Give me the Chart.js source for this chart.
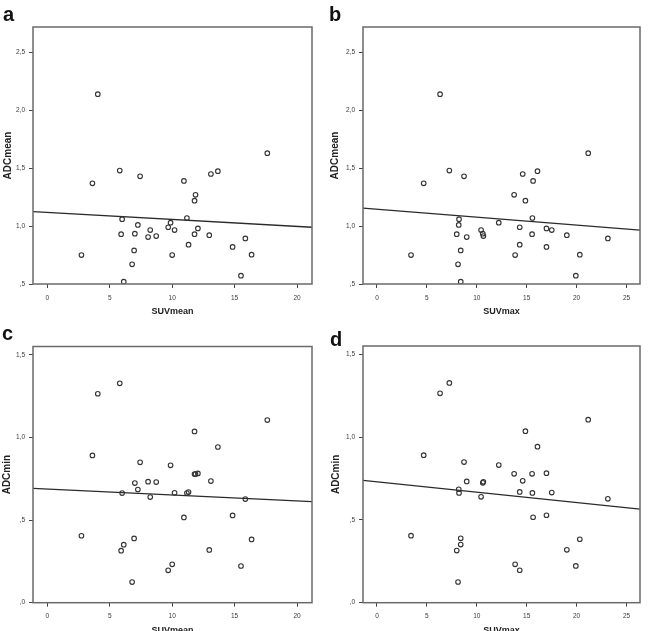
<!DOCTYPE html>
<html>
<head>
<meta charset="utf-8">
<script src="https://cdn.jsdelivr.net/npm/chart.js@4.4.1/dist/chart.umd.min.js"></script>
<style>
html, body { margin: 0; padding: 0; background: #fff; overflow: hidden; }
body { width: 648px; height: 631px; position: relative; }
canvas { position: absolute; }
.tag { position: absolute; font: bold 20px "Liberation Sans", Arial, sans-serif; line-height: 20px; color: #111; }
</style>
</head>
<body>
<canvas id="chartA" width="324" height="320" style="left:0;top:0"></canvas>
<canvas id="chartB" width="324" height="320" style="left:324px;top:0"></canvas>
<canvas id="chartC" width="324" height="325" style="left:0;top:315px"></canvas>
<canvas id="chartD" width="324" height="325" style="left:324px;top:315px"></canvas>
<div class="tag" style="left:3px;top:4px">a</div>
<div class="tag" style="left:329px;top:4px">b</div>
<div class="tag" style="left:2px;top:323px">c</div>
<div class="tag" style="left:330px;top:329px">d</div>
<script>
// data, one value per patient (same order in every array)
const suvMean = [4.04, 3.61, 5.80, 7.43, 2.73, 5.99, 5.91, 7.01, 7.25, 6.95, 6.79, 6.12, 8.24, 8.07, 8.72, 9.68, 9.87,
  10.19, 10.0, 10.94, 11.87, 11.79, 11.18, 12.06, 11.79, 11.31, 13.10, 13.66, 12.97, 14.84, 15.86, 16.36, 15.51, 17.62];
const suvMax = [6.32, 4.68, 7.25, 8.72, 3.41, 8.22, 7.99, 10.6, 8.19, 8.39, 8.12, 8.39, 10.43, 8.99, 10.66, 14.3, 12.2,
  17.51, 13.84, 15.64, 13.74, 14.87, 15.57, 16.98, 15.54, 14.3, 14.6, 16.08, 19.02, 16.98, 23.13, 20.32, 19.92, 21.16];
const adcMean = [2.14, 1.37, 1.48, 1.43, 0.75, 1.06, 0.93, 0.935, 1.01, 0.79, 0.67, 0.52, 0.966, 0.905, 0.914, 0.99, 1.03,
  0.966, 0.75, 1.39, 1.27, 1.22, 1.07, 0.98, 0.93, 0.84, 1.45, 1.475, 0.922, 0.82, 0.894, 0.753, 0.572, 1.63];
const adcMin = [1.264, 0.891, 1.327, 0.849, 0.405, 0.663, 0.315, 0.724, 0.685, 0.389, 0.125, 0.351, 0.639, 0.732, 0.730,
  0.196, 0.831, 0.665, 0.232, 0.516, 0.778, 1.036, 0.663, 0.782, 0.778, 0.669, 0.736, 0.942, 0.319, 0.528, 0.627, 0.383, 0.222, 1.105];

// fit line heights at the left and right edge of each plot
const fitA = [1.125, 0.99];
const fitB = [1.155, 0.966];
const fitC = [0.692, 0.612];
const fitD = [0.739, 0.565];

// tick values
const xTicksMean = [0, 5, 10, 15, 20];
const xTicksMax = [0, 5, 10, 15, 20, 25];
const yTicksMean = [0.5, 1.0, 1.5, 2.0, 2.5];
const yTicksMin = [0, 0.5, 1.0, 1.5];

const FONT = '"Liberation Sans", Arial, sans-serif';

// SPSS style labels: 2,5  1,0  ,5  ,0
function spss(v) {
  let s = v.toFixed(1).replace('.', ',');
  if (s.startsWith('0')) s = s.slice(1);
  return s;
}

const framePlugin = {
  id: 'frame',
  afterDatasetsDraw(chart) {
    const { ctx, chartArea } = chart;
    const { left, top, right, bottom } = chartArea;
    ctx.save();
    ctx.strokeStyle = '#6a6a6a';
    ctx.lineWidth = 1.5;
    ctx.strokeRect(left, top, right - left, bottom - top);
    ctx.restore();
  }
};

function makeChart(id, xs, ys, fit, xRange, yRange, xTicks, yTicks, xTitle, yTitle, box) {
  const points = xs.map((x, i) => ({ x: x, y: ys[i] }));
  return new Chart(document.getElementById(id), {
    type: 'scatter',
    data: {
      datasets: [{
        data: points,
        pointRadius: 2.3,
        pointBorderWidth: 1.1,
        pointBorderColor: '#333',
        pointBackgroundColor: 'rgba(0,0,0,0)',
      }, {
        data: [{ x: xRange[0], y: fit[0] }, { x: xRange[1], y: fit[1] }],
        showLine: true,
        pointRadius: 0,
        borderColor: '#2a2a2a',
        borderWidth: 1.3,
      }]
    },
    options: {
      responsive: false,
      animation: false,
      layout: {
        autoPadding: false,
        padding: { left: 0, top: box.top, right: box.right, bottom: 0 }
      },
      plugins: {
        legend: { display: false },
        tooltip: { enabled: false },
      },
      scales: {
        x: {
          type: 'linear',
          min: xRange[0],
          max: xRange[1],
          afterBuildTicks: (scale) => { scale.ticks = xTicks.map(v => ({ value: v })); },
          afterFit: (scale) => { scale.height = box.xHeight; },
          border: { display: false },
          grid: { drawOnChartArea: false, tickLength: 4, color: '#444', lineWidth: 1 },
          ticks: { padding: 6, color: '#3a3a3a', maxRotation: 0, font: { family: FONT, size: 6.5 } },
          title: {
            display: true, text: xTitle, color: '#222',
            padding: { top: 0, bottom: box.xTitlePad },
            font: { family: FONT, size: 9, weight: 'bold' }
          }
        },
        y: {
          type: 'linear',
          min: yRange[0],
          max: yRange[1],
          afterBuildTicks: (scale) => { scale.ticks = yTicks.map(v => ({ value: v })); },
          afterFit: (scale) => { scale.width = box.yWidth; },
          border: { display: false },
          grid: { drawOnChartArea: false, tickLength: 4, color: '#444', lineWidth: 1 },
          ticks: { padding: 4, color: '#3a3a3a', callback: (v) => spss(v), font: { family: FONT, size: 6.5 } },
          title: {
            display: true, text: yTitle, color: '#222',
            padding: { top: box.yTitlePad, bottom: 0 },
            font: { family: FONT, size: 10, weight: 'bold' }
          }
        }
      }
    },
    plugins: [framePlugin]
  });
}

makeChart('chartA', suvMean, adcMean, fitA, [-1.15, 21.2], [0.5, 2.72], xTicksMean, yTicksMean, 'SUVmean', 'ADCmean',
  { top: 27, right: 12, yWidth: 33, xHeight: 36, xTitlePad: 2.9, yTitlePad: 2.3 });
makeChart('chartB', suvMax, adcMean, fitB, [-1.4, 26.35], [0.5, 2.72], xTicksMax, yTicksMean, 'SUVmax', 'ADCmean',
  { top: 27, right: 8, yWidth: 39, xHeight: 36, xTitlePad: 2.9, yTitlePad: 5.3 });
makeChart('chartC', suvMean, adcMin, fitC, [-1.15, 21.2], [0, 1.55], xTicksMean, yTicksMin, 'SUVmean', 'ADCmin',
  { top: 31.5, right: 12, yWidth: 33, xHeight: 37.3, xTitlePad: 4.1, yTitlePad: 1.2 });
makeChart('chartD', suvMax, adcMin, fitD, [-1.4, 26.35], [0, 1.55], xTicksMax, yTicksMin, 'SUVmax', 'ADCmin',
  { top: 31, right: 8, yWidth: 39, xHeight: 37.3, xTitlePad: 4.1, yTitlePad: 6 });
</script>
</body>
</html>
